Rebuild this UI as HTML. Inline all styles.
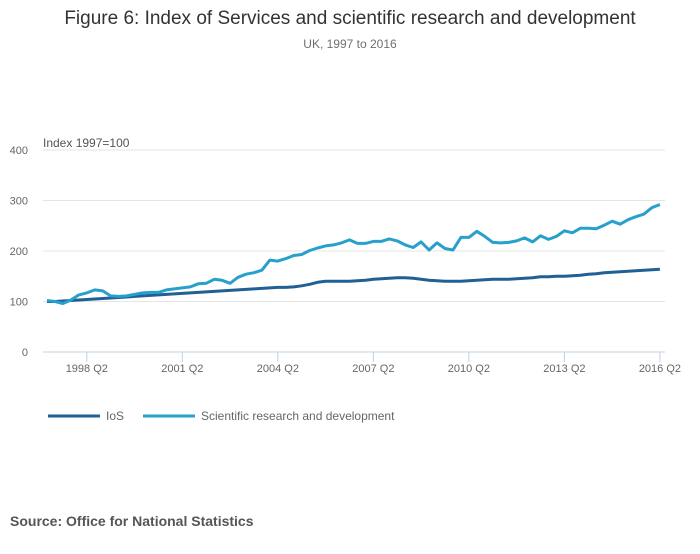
<!DOCTYPE html>
<html><head><meta charset="utf-8"><style>
body{margin:0;background:#fff;font-family:"Liberation Sans",sans-serif}
</style></head><body>
<svg id="chart" width="700" height="549" xmlns="http://www.w3.org/2000/svg">
<text x="350" y="24" text-anchor="middle" font-size="19" fill="#333">Figure 6: Index of Services and scientific research and development</text>
<text x="350" y="48" text-anchor="middle" font-size="12" fill="#707070">UK, 1997 to 2016</text>
<text x="43" y="147" font-size="12" fill="#555">Index 1997=100</text>
<g id="grid"></g><g id="xaxis"></g><g id="lines"></g>
<g>
<line x1="48" y1="416" x2="100" y2="416" stroke="#206095" stroke-width="3"/>
<text x="106" y="420" font-size="12" fill="#666">IoS</text>
<line x1="143" y1="416" x2="195" y2="416" stroke="#27a0cc" stroke-width="3"/>
<text x="201" y="420" font-size="12" fill="#666">Scientific research and development</text>
</g>
<text x="10" y="526" font-size="14" font-weight="bold" fill="#555">Source: Office for National Statistics</text>
</svg>
<script>
const yTicks=[0,100,200,300,400];
const xTickLabels=["1998 Q2","2001 Q2","2004 Q2","2007 Q2","2010 Q2","2013 Q2","2016 Q2"];
const xTickIndex=[5,17,29,41,53,65,77];
const iosValues=[100,100,101,102,103,104,105,106,107,108,109,110,111,112,113,114,115,116,117,118,119,120,121,122,123,124,125,126,127,128,128,129,131,134,138,140,140,140,140,141,142,144,145,146,147,147,146,144,142,141,140,140,140,141,142,143,144,144,144,145,146,147,149,149,150,150,151,152,154,155,157,158,159,160,161,162,163,164];
const srdValues=[102,100,96,103,113,117,123,121,111,110,111,114,117,118,118,123,125,127,129,135,136,144,142,136,148,154,157,162,182,180,185,191,193,201,206,210,212,216,222,215,215,219,219,224,220,212,207,218,202,216,205,202,227,227,239,229,217,216,217,220,226,218,230,223,229,240,236,245,245,244,251,259,253,262,268,273,286,292];
const NS="http://www.w3.org/2000/svg";
const xS=i=>47+i*7.96;
const yS=v=>352-v*0.505;
const grid=document.getElementById('grid');
yTicks.forEach(t=>{
  if(t>0){const l=document.createElementNS(NS,'line');
  l.setAttribute('x1',43);l.setAttribute('x2',665);l.setAttribute('y1',yS(t));l.setAttribute('y2',yS(t));
  l.setAttribute('stroke','#e4e4e4');l.setAttribute('stroke-width','1');
  
  
  grid.appendChild(l);}
  const tx=document.createElementNS(NS,'text');
  tx.setAttribute('x',28);tx.setAttribute('y',yS(t)+4);tx.setAttribute('text-anchor','end');
  tx.setAttribute('font-size','11');tx.setAttribute('fill','#666');tx.textContent=t;
  
  
  grid.appendChild(tx);
});
const xa=document.getElementById('xaxis');
const base=document.createElementNS(NS,'line');
base.setAttribute('x1',43);base.setAttribute('x2',665);base.setAttribute('y1',352);base.setAttribute('y2',352);
base.setAttribute('stroke','#c0d0e8');


xa.appendChild(base);
xTickLabels.forEach((lab,k)=>{
  const x=xS(xTickIndex[k]);
  const tk=document.createElementNS(NS,'line');
  tk.setAttribute('x1',x);tk.setAttribute('x2',x);tk.setAttribute('y1',352);tk.setAttribute('y2',362);
  tk.setAttribute('stroke','#c0d0e8');
  
  
  xa.appendChild(tk);
  const tx=document.createElementNS(NS,'text');
  tx.setAttribute('x',x);tx.setAttribute('y',372);tx.setAttribute('text-anchor','middle');
  tx.setAttribute('font-size','11');tx.setAttribute('fill','#666');tx.textContent=lab;
  
  
  xa.appendChild(tx);
});
const lines=document.getElementById('lines');
function draw(vals,color,name){
  const p=document.createElementNS(NS,'polyline');
  p.setAttribute('points',vals.map((v,i)=>xS(i).toFixed(1)+','+yS(v).toFixed(1)).join(' '));
  p.setAttribute('fill','none');p.setAttribute('stroke',color);p.setAttribute('stroke-width','3');
  p.setAttribute('stroke-linejoin','round');
  
  
  lines.appendChild(p);
}
draw(iosValues,'#206095','ios-line');
draw(srdValues,'#27a0cc','srd-line');
</script>
</body></html>
